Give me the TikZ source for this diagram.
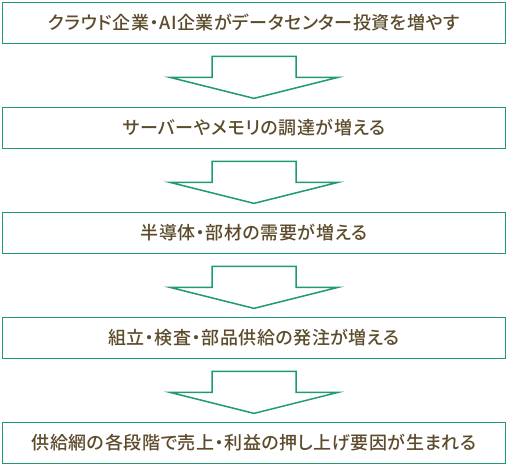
\documentclass[tikz,border=0pt]{standalone}
\usepackage{fontspec}
\newfontfamily\jp{Noto Sans CJK JP Medium}[RawFeature=+palt,LetterSpace=3]
\usetikzlibrary{calc}
\definecolor{boxgreen}{RGB}{31,155,111}
\definecolor{txtbrown}{RGB}{92,76,44}
\tikzset{
  x=1pt,y=1pt,
  stepbox/.style={draw=boxgreen,line width=1.8pt,fill=white,minimum width=503pt,minimum height=41pt,inner sep=0pt,
    font=\jp\fontsize{18}{18}\selectfont,text=txtbrown},
  downarrow/.style={draw=boxgreen,line width=1.5pt,fill=white,line join=miter}
}
\begin{document}
\begin{tikzpicture}
\useasboundingbox (0,0) rectangle (508,465);
\node[stepbox] (b1) at (254,442) {クラウド企業・AI企業がデータセンター投資を増やす};
\node[stepbox] (b2) at (254,337) {サーバーやメモリの調達が増える};
\node[stepbox] (b3) at (254,232) {半導体・部材の需要が増える};
\node[stepbox] (b4) at (254,127) {組立・検査・部品供給の発注が増える};
\node[stepbox] (b5) at (254,22) {供給網の各段階で売上・利益の押し上げ要因が生まれる};
\foreach \a in {b1,b2,b3,b4}{
  \draw[downarrow] ($(\a.south)+(-42,-12)$) -- ++(84,0) -- ++(0,-21) -- ++(42,0) -- ++(-84,-21) -- ++(-84,21) -- ++(42,0) -- cycle;
}
\end{tikzpicture}
\end{document}
